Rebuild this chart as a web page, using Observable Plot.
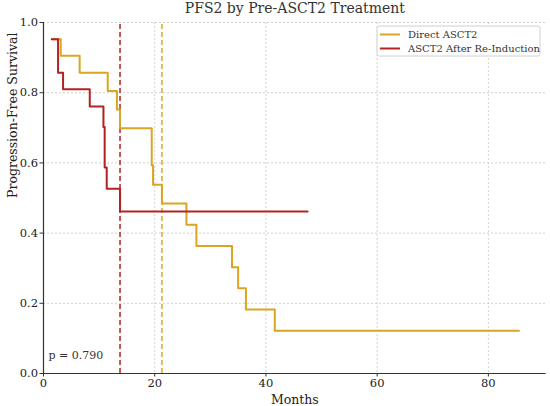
<!DOCTYPE html>
<html><head>
<meta charset="utf-8">
<script src="https://cdn.jsdelivr.net/npm/d3@7"></script>
<script src="https://cdn.jsdelivr.net/npm/@observablehq/plot@0.6"></script>
<style>body{margin:0;background:#fff} svg{font-family:"DejaVu Serif",serif}</style>
</head><body><div id="chart"></div>
<script>
const directTimes = [1.49, 3.1, 6.5, 11.55, 13.2, 13.76, 19.46, 19.7, 21.3, 25.7, 27.5, 33.9, 35.0, 36.4, 41.6, 85.5];
const directSurv  = [0.952, 0.905, 0.857, 0.805, 0.752, 0.699, 0.593, 0.538, 0.484, 0.424, 0.363, 0.303, 0.243, 0.182, 0.122, 0.122];
const reindTimes  = [1.49, 2.62, 3.52, 8.32, 10.78, 11.0, 11.37, 13.76, 47.5];
const reindSurv   = [0.952, 0.857, 0.810, 0.761, 0.702, 0.587, 0.526, 0.4615, 0.4615];
const seriesNames = ["Direct ASCT2", "ASCT2 After Re-Induction"];
const seriesColors = ["#DAA520", "#B22222"];
const medianTimes = [21.3, 13.76];
const xTicks = [0, 20, 40, 60, 80];
const yTicks = [0, 0.2, 0.4, 0.6, 0.8, 1.0];
const pText = "p = 0.790";

const direct = directTimes.map((t, i) => ({t, s: directSurv[i]}));
const reind = reindTimes.map((t, i) => ({t, s: reindSurv[i]}));
const medians = medianTimes.map((t, i) => ({t, c: seriesColors[i]}));

const gridStyle = {stroke: "#b8b8b8", strokeDasharray: "2,2", strokeOpacity: 0.8, strokeWidth: 0.8};

const chart = Plot.plot({
  width: 550, height: 406,
  marginLeft: 43, marginRight: 4.3, marginTop: 22, marginBottom: 33,
  style: {fontFamily: "DejaVu Serif, serif", background: "#fff", fontSize: "11.5px"},
  x: {domain: [0, 90.4]},
  y: {domain: [0, 1]},
  marks: [
    Plot.gridX(xTicks, gridStyle),
    Plot.gridY(yTicks, gridStyle),
    Plot.ruleX(medians, {x: "t", y1: 0, y2: 1, stroke: d => d.c, strokeDasharray: "5,3", strokeWidth: 1.5}),
    Plot.line(direct, {x: "t", y: "s", curve: "step-after", stroke: seriesColors[0], strokeWidth: 2}),
    Plot.line(reind, {x: "t", y: "s", curve: "step-after", stroke: seriesColors[1], strokeWidth: 2}),
    Plot.axisX({ticks: xTicks, tickSize: 3.5, tickPadding: 2, fontSize: 11.5, label: null, stroke: "#333", color: "#222"}),
    Plot.axisY({ticks: yTicks, tickSize: 3.5, tickPadding: 2, fontSize: 11.5, label: null, tickFormat: d3.format(".1f"), stroke: "#333", color: "#222"}),
    Plot.ruleX([0], {stroke: "#333", strokeWidth: 1.2}),
    Plot.ruleY([0], {stroke: "#333", strokeWidth: 1.2}),
    Plot.text([pText], {frameAnchor: "bottom-left", dx: 5, dy: -15, fontSize: 11, fill: "#333", textAnchor: "start"}),
    Plot.text(["PFS2 by Pre-ASCT2 Treatment"], {frameAnchor: "top", dy: -19, fontSize: 14, fill: "#333"}),
    Plot.text(["Months"], {frameAnchor: "bottom", dy: 30, fontSize: 12.5, fill: "#222"}),
    Plot.text(["Progression-Free Survival"], {frameAnchor: "left", dx: -31, rotate: -90, fontSize: 12.5, fill: "#222"})
  ]
});

// legend
const svg = d3.select(chart);
const lg = svg.append("g").attr("text-anchor", "start");
lg.append("rect").attr("x", 377).attr("y", 26).attr("width", 163).attr("height", 30)
  .attr("rx", 2).attr("fill", "#fff").attr("fill-opacity", 0.9).attr("stroke", "#d0d0d0");
seriesNames.forEach((name, i) => {
  const y = 34.5 + i * 14;
  lg.append("line").attr("x1", 380).attr("x2", 400).attr("y1", y).attr("y2", y)
    .attr("stroke", seriesColors[i]).attr("stroke-width", 2);
  lg.append("text").attr("x", 408).attr("y", y + 3.5).attr("font-size", 10).attr("fill", "#333")
    .attr("text-anchor", "start").text(name);
});

document.getElementById("chart").appendChild(chart);
</script>
</body></html>
